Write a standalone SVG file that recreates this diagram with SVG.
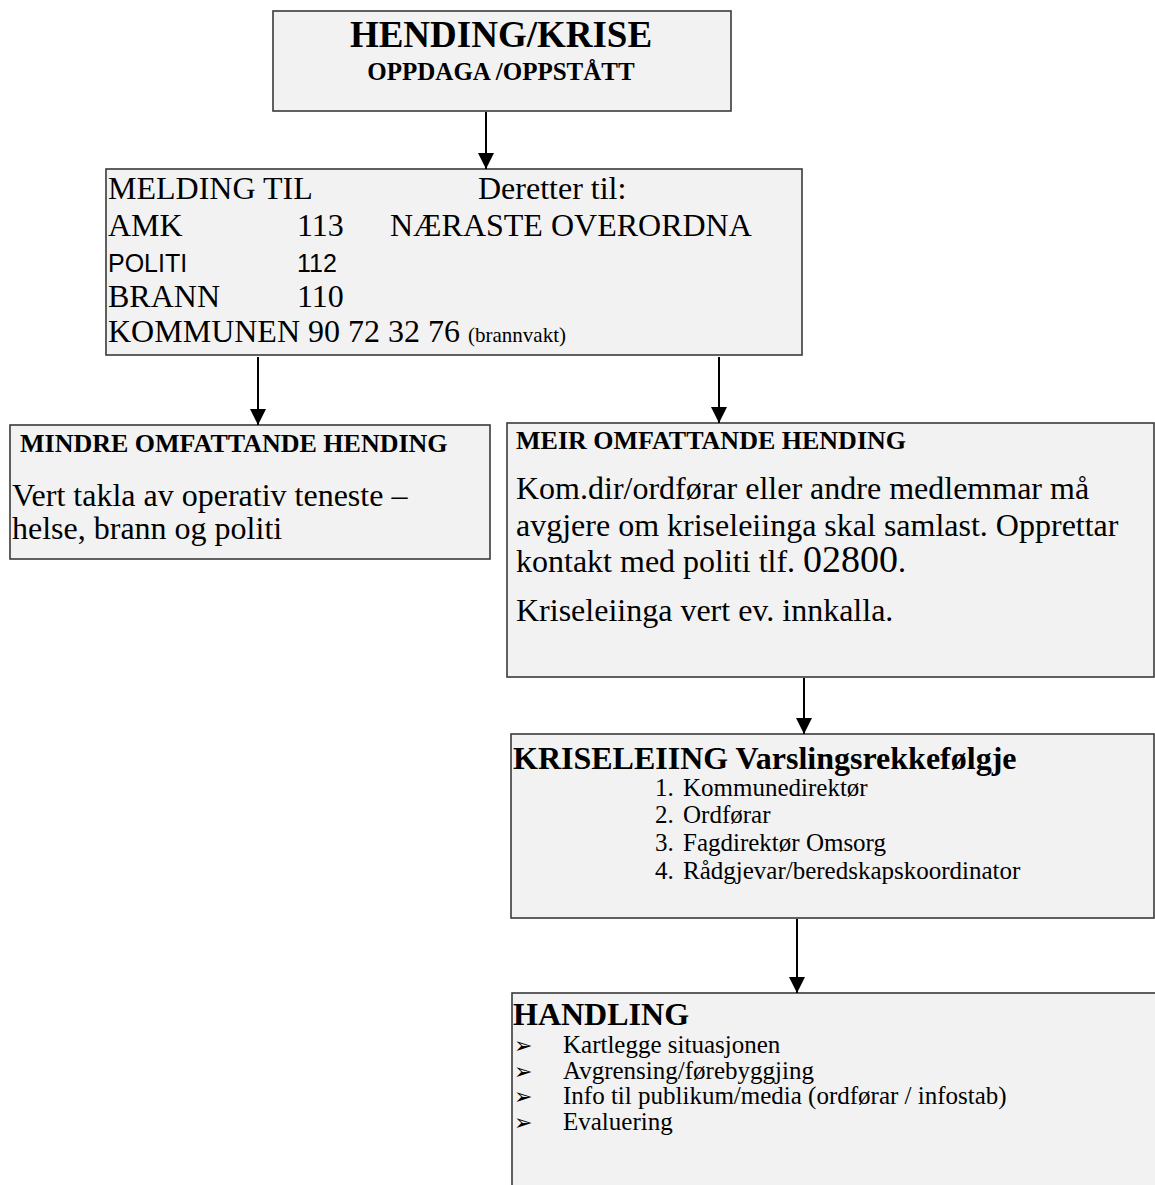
<svg xmlns="http://www.w3.org/2000/svg" width="1155" height="1185" viewBox="0 0 1155 1185">
<style>
.box{fill:#f2f2f2;stroke:#3a3a3a;stroke-width:1.6}
.t{font-family:"Liberation Serif","Times New Roman",serif;fill:#000}
.b{font-weight:bold}
.s{font-family:"Liberation Sans",Arial,sans-serif;fill:#000}
.c{stroke:#000;stroke-width:2;fill:none}
.bul{font-family:"DejaVu Sans",sans-serif;fill:#000}
</style>
<defs>
<marker id="ah" viewBox="0 0 16 16" refX="16" refY="8" markerWidth="16" markerHeight="16" markerUnits="userSpaceOnUse" orient="auto">
<path d="M0,0 L16,8 L0,16 Z" fill="#000"/>
</marker>
</defs>
<rect width="1155" height="1185" fill="#fff"/>

<g id="node-hending">
<rect class="box" x="273" y="11" width="458" height="100"/>
<text class="t b" x="501" y="47" font-size="37" text-anchor="middle">HENDING/KRISE</text>
<text class="t b" x="501" y="80" font-size="25" text-anchor="middle">OPPDAGA /OPPSTÅTT</text>
</g>

<g id="node-melding">
<rect class="box" x="106" y="169" width="696" height="186"/>
<text class="t" x="108" y="199" font-size="32">MELDING TIL</text>
<text class="t" x="478" y="199" font-size="32">Deretter til:</text>
<text class="t" x="108" y="236" font-size="32">AMK</text>
<text class="t" x="297" y="236" font-size="32">113</text>
<text class="t" x="390" y="236" font-size="32">NÆRASTE OVERORDNA</text>
<text class="s" x="108" y="272" font-size="25">POLITI</text>
<text class="s" x="297" y="272" font-size="25">112</text>
<text class="t" x="108" y="307" font-size="32">BRANN</text>
<text class="t" x="297" y="307" font-size="32">110</text>
<text class="t" x="108" y="342" font-size="32">KOMMUNEN 90 72 32 76 <tspan font-size="21">(brannvakt)</tspan></text>
</g>

<g id="node-mindre">
<rect class="box" x="10" y="425" width="480" height="134"/>
<text class="t b" x="20" y="452" font-size="26">MINDRE OMFATTANDE HENDING</text>
<text class="t" x="12" y="506" font-size="32">Vert takla av operativ teneste –</text>
<text class="t" x="12" y="539" font-size="32">helse, brann  og politi</text>
</g>

<g id="node-meir">
<rect class="box" x="507" y="423" width="647" height="254"/>
<text class="t b" x="516" y="449" font-size="26">MEIR OMFATTANDE HENDING</text>
<text class="t" x="516" y="499" font-size="32">Kom.dir/ordførar eller andre medlemmar må</text>
<text class="t" x="516" y="536" font-size="32">avgjere om kriseleiinga skal samlast. Opprettar</text>
<text class="t" x="516" y="572" font-size="32">kontakt med politi tlf. <tspan font-size="38">02800</tspan>.</text>
<text class="t" x="516" y="621" font-size="32">Kriseleiinga vert ev. innkalla.</text>
</g>

<g id="node-kriseleiing">
<rect class="box" x="511" y="734" width="643" height="184"/>
<text class="t b" x="513" y="769" font-size="32">KRISELEIING Varslingsrekkefølgje</text>
<text class="t" x="655" y="796" font-size="25">1.</text>
<text class="t" x="683" y="796" font-size="25">Kommunedirektør</text>
<text class="t" x="655" y="823" font-size="25">2.</text>
<text class="t" x="683" y="823" font-size="25">Ordførar</text>
<text class="t" x="655" y="851" font-size="25">3.</text>
<text class="t" x="683" y="851" font-size="25">Fagdirektør Omsorg</text>
<text class="t" x="655" y="879" font-size="25">4.</text>
<text class="t" x="683" y="879" font-size="25">Rådgjevar/beredskapskoordinator</text>
</g>

<g id="node-handling">
<rect class="box" x="512" y="993" width="700" height="260"/>
<text class="t b" x="513" y="1025" font-size="32">HANDLING</text>
<text class="bul" x="514" y="1053" font-size="22">➢</text>
<text class="t" x="563" y="1053" font-size="25">Kartlegge situasjonen</text>
<text class="bul" x="514" y="1079" font-size="22">➢</text>
<text class="t" x="563" y="1079" font-size="25">Avgrensing/førebyggjing</text>
<text class="bul" x="514" y="1104" font-size="22">➢</text>
<text class="t" x="563" y="1104" font-size="25">Info til publikum/media (ordførar / infostab)</text>
<text class="bul" x="514" y="1130" font-size="22">➢</text>
<text class="t" x="563" y="1130" font-size="25">Evaluering</text>
</g>

<g id="connectors">
<line class="c" x1="486" y1="112" x2="486" y2="169" marker-end="url(#ah)"/>
<line class="c" x1="258" y1="357" x2="258" y2="425" marker-end="url(#ah)"/>
<line class="c" x1="719" y1="357" x2="719" y2="423" marker-end="url(#ah)"/>
<line class="c" x1="804" y1="678" x2="804" y2="734" marker-end="url(#ah)"/>
<line class="c" x1="797" y1="919" x2="797" y2="993" marker-end="url(#ah)"/>
</g>
</svg>
